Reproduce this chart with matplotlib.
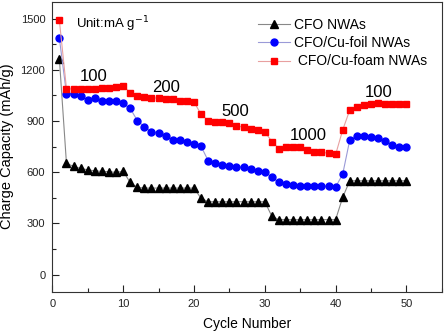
import matplotlib
matplotlib.use("Agg")
import matplotlib.pyplot as plt
from matplotlib.ticker import MultipleLocator

plt.rcParams['font.family'] = ['Liberation Sans', 'DejaVu Sans']

cycles = list(range(1, 51))
cfo = [1265, 652, 634, 622, 614, 608, 605, 603, 599, 605,
       540, 511, 507, 507, 507, 507, 507, 507, 507, 507,
       447, 427, 427, 427, 427, 427, 427, 427, 427, 427,
       341, 322, 322, 322, 322, 322, 322, 322, 322, 322,
       453, 550, 550, 550, 550, 550, 550, 550, 550, 550]
cu_foil = [1385, 1061, 1061, 1044, 1023, 1034, 1019, 1015, 1015, 1003,
           974, 903, 867, 838, 830, 814, 790, 787, 778, 767,
           752, 668, 652, 642, 634, 631, 628, 618, 605, 603,
           570, 540, 530, 525, 521, 521, 521, 518, 517, 513,
           589, 790, 813, 813, 808, 798, 784, 761, 750, 746]
cu_foam = [1490, 1090, 1087, 1087, 1090, 1090, 1096, 1096, 1102, 1106,
           1067, 1047, 1043, 1037, 1034, 1032, 1028, 1019, 1019, 1012,
           940, 903, 897, 892, 886, 870, 865, 856, 846, 838,
           779, 739, 745, 745, 745, 730, 721, 716, 712, 704,
           848, 965, 985, 995, 1000, 1003, 998, 998, 1002, 998]
labels = ["CFO NWAs", "CFO/Cu-foil NWAs", " CFO/Cu-foam NWAs"]
rate_text = ["100", "200", "500", "1000", "100"]
rate_pos = [(5.9, 1160), (16.1, 1097), (25.9, 958), (36.1, 815), (46.1, 1070)]

fig = plt.figure(figsize=(4.45, 3.34), dpi=100)
ax = fig.add_axes([0.1175, 0.127, 0.8755, 0.868])

ax.plot(cycles, cfo, color='#888888', lw=0.8, marker='^', ms=5.5,
        mfc='black', mec='black', label=labels[0])
ax.plot(cycles, cu_foil, color='#9a9ad8', lw=0.8, marker='o', ms=5,
        mfc='#0000ff', mec='#0000ff', label=labels[1])
ax.plot(cycles, cu_foam, color='#e8a0a0', lw=0.8, marker='s', ms=4.3,
        mfc='#ff0000', mec='#ff0000', label=labels[2])

ax.set_xlim(0, 55)
ax.set_ylim(-100, 1600)
ax.xaxis.set_major_locator(MultipleLocator(10))
ax.xaxis.set_minor_locator(MultipleLocator(5))
ax.yaxis.set_major_locator(MultipleLocator(300))
ax.yaxis.set_minor_locator(MultipleLocator(150))
ax.tick_params(which='both', direction='in', top=False, right=False,
               labelsize=8, colors='#222222', width=0.8)
ax.tick_params(which='major', length=5, pad=5)
ax.tick_params(which='minor', length=3)
for s in ax.spines.values():
    s.set_linewidth(0.8)
    s.set_color('#333333')

ax.set_xlabel("Cycle Number", fontsize=10, labelpad=6)
ax.set_ylabel("Charge Capacity (mAh/g)", fontsize=10.5, labelpad=5)

ax.text(3.4, 1467, "Unit:mA g$^{-1}$", fontsize=9.5, va='center', ha='left')
for t, (x, y) in zip(rate_text, rate_pos):
    ax.text(x, y, t, fontsize=12, ha='center', va='center')

leg = ax.legend(loc='upper right', bbox_to_anchor=(0.983, 0.972), frameon=False,
                fontsize=10, handlelength=2.3, handletextpad=0.3,
                labelspacing=0.3, borderaxespad=0.2)

fig.savefig("out.png", dpi=100)
